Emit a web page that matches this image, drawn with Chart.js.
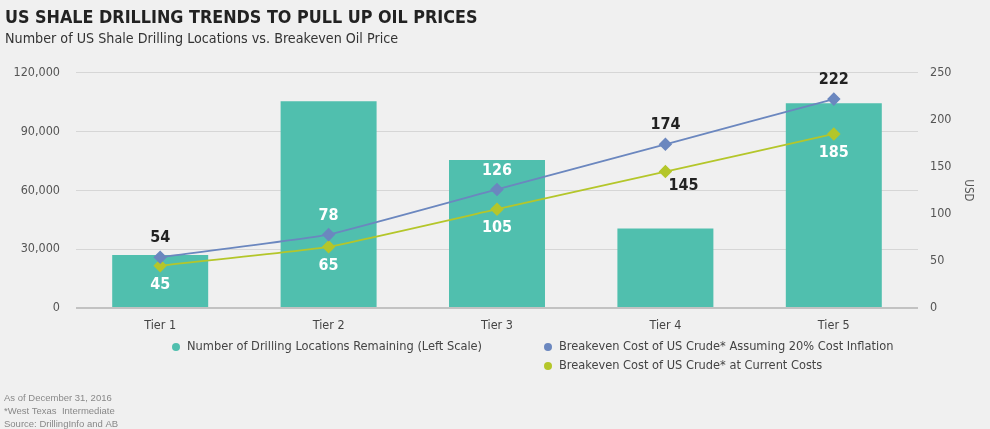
<!DOCTYPE html>
<html>
<head>
<meta charset="utf-8">
<script src="https://cdn.jsdelivr.net/npm/chart.js@4.4.1/dist/chart.umd.min.js"></script>
<style>
  html, body { margin: 0; padding: 0; background: #f0f0f0; }
  canvas { display: block; }
</style>
</head>
<body>
<canvas id="shale" width="990" height="429"></canvas>
<script>
// chart data
const tiers = ['Tier 1', 'Tier 2', 'Tier 3', 'Tier 4', 'Tier 5'];
const locationsRemaining = [27000, 105500, 75500, 40500, 104500];
const breakevenInflation = [54, 78, 126, 174, 222];
const breakevenCurrent = [45, 65, 105, 145, 185];
const footnotes = ['As of December 31, 2016', '*West Texas  Intermediate', 'Source: DrillingInfo and AB'];

const NARROW = "'Liberation Sans Narrow', 'DejaVu Sans Condensed', sans-serif";
const TEAL = '#50bfae', BLUE = '#6b87bf', LIME = '#b4c62a';

// value labels above/below the line markers, white when they sit on a bar
const pointLabels = {
    id: 'pointLabels',
    afterDatasetsDraw(chart) {
        const ctx = chart.ctx;
        const bars = chart.getDatasetMeta(0).data;
        ctx.save();
        ctx.font = 'bold 16px ' + NARROW;
        ctx.textAlign = 'center';
        ctx.textBaseline = 'middle';
        chart.data.datasets.forEach((ds, di) => {
            if (ds.type !== 'line') return;
            chart.getDatasetMeta(di).data.forEach((pt, i) => {
                const pos = ds.labelPos[i];
                let x = pt.x, y = pt.y;
                if (pos === 'top') y -= 19;
                else if (pos === 'bottom') y += 19;
                else { x += 18; y += 14; }
                const b = bars[i];
                const inside = Math.abs(x - b.x) < b.width / 2 && y > b.y && y < b.base;
                ctx.fillStyle = inside ? '#ffffff' : '#222222';
                ctx.fillText(ds.data[i], x, y);
            });
        });
        ctx.restore();
    }
};

// two-column legend plus footnotes
const extras = {
    id: 'extras',
    afterDraw(chart) {
        const ctx = chart.ctx;
        const ds = chart.data.datasets;
        const items = [
            { d: ds[0], x: 176, y: 347 },
            { d: ds[1], x: 548, y: 347 },
            { d: ds[2], x: 548, y: 366 }
        ];
        ctx.save();
        ctx.textBaseline = 'middle';
        ctx.font = '12.7px ' + NARROW;
        items.forEach(it => {
            ctx.fillStyle = it.d.legendColor;
            ctx.beginPath();
            ctx.arc(it.x, it.y, 4, 0, Math.PI * 2);
            ctx.fill();
            ctx.fillStyle = '#444';
            ctx.fillText(it.d.label, it.x + 11, it.y);
        });
        ctx.font = '9.5px "Liberation Sans", sans-serif';
        ctx.fillStyle = '#888';
        footnotes.forEach((t, i) => ctx.fillText(t, 4, 398 + i * 13));
        ctx.restore();
    }
};

new Chart(document.getElementById('shale'), {
    data: {
        labels: tiers,
        datasets: [{
            type: 'bar',
            label: 'Number of Drilling Locations Remaining (Left Scale)',
            data: locationsRemaining,
            backgroundColor: TEAL,
            legendColor: TEAL,
            yAxisID: 'y',
            categoryPercentage: 1,
            barPercentage: 0.57,
            order: 2
        }, {
            type: 'line',
            label: 'Breakeven Cost of US Crude* Assuming 20% Cost Inflation',
            data: breakevenInflation,
            borderColor: BLUE,
            backgroundColor: BLUE,
            legendColor: BLUE,
            borderWidth: 1.8,
            pointStyle: 'rectRot',
            pointRadius: 5.5,
            tension: 0.1,
            yAxisID: 'y1',
            labelPos: ['top', 'top', 'top', 'top', 'top'],
            order: 0
        }, {
            type: 'line',
            label: 'Breakeven Cost of US Crude* at Current Costs',
            data: breakevenCurrent,
            borderColor: LIME,
            backgroundColor: LIME,
            legendColor: LIME,
            borderWidth: 1.8,
            pointStyle: 'rectRot',
            pointRadius: 5.5,
            tension: 0.1,
            yAxisID: 'y1',
            labelPos: ['bottom', 'bottom', 'bottom', 'right', 'bottom'],
            order: 1
        }]
    },
    options: {
        responsive: false,
        animation: false,
        devicePixelRatio: 1,
        layout: { padding: { top: 0, left: 5, right: 0, bottom: 91 } },
        plugins: {
            legend: { display: false },
            tooltip: { enabled: false },
            title: {
                display: true,
                text: 'US SHALE DRILLING TRENDS TO PULL UP OIL PRICES',
                align: 'start',
                color: '#222',
                font: { family: NARROW, size: 17.8, weight: 'bold', lineHeight: 1.35 },
                padding: { top: 6, bottom: 0 }
            },
            subtitle: {
                display: true,
                text: 'Number of US Shale Drilling Locations vs. Breakeven Oil Price',
                align: 'start',
                color: '#333',
                font: { family: NARROW, size: 14.2, lineHeight: 1.25 },
                padding: { top: 0, bottom: 25 }
            }
        },
        scales: {
            x: {
                grid: { display: false, drawTicks: false },
                border: { display: false },
                ticks: { color: '#444', font: { family: NARROW, size: 12.5 }, padding: 10 },
                afterFit: s => { s.height = 30; }
            },
            y: {
                position: 'left',
                min: 0,
                max: 120000,
                ticks: {
                    stepSize: 30000,
                    color: '#555',
                    padding: 16,
                    font: { family: NARROW, size: 12.5 },
                    callback: v => v.toLocaleString('en-US')
                },
                grid: {
                    drawTicks: false,
                    color: c => c.tick.value === 0 ? '#c2c2c2' : '#d6d6d6',
                    lineWidth: c => c.tick.value === 0 ? 2 : 1
                },
                border: { display: false },
                afterFit: s => { s.width = 71; }
            },
            y1: {
                position: 'right',
                min: 0,
                max: 250,
                ticks: {
                    stepSize: 50,
                    color: '#555',
                    padding: 12,
                    font: { family: NARROW, size: 12.5 }
                },
                grid: { display: false, drawTicks: false },
                border: { display: false },
                title: {
                    display: true,
                    text: 'USD',
                    color: '#555',
                    font: { family: NARROW, size: 11.5 },
                    padding: { top: 15, bottom: 0 }
                },
                afterFit: s => { s.width = 72; }
            }
        }
    },
    plugins: [pointLabels, extras]
});
</script>
</body>
</html>
